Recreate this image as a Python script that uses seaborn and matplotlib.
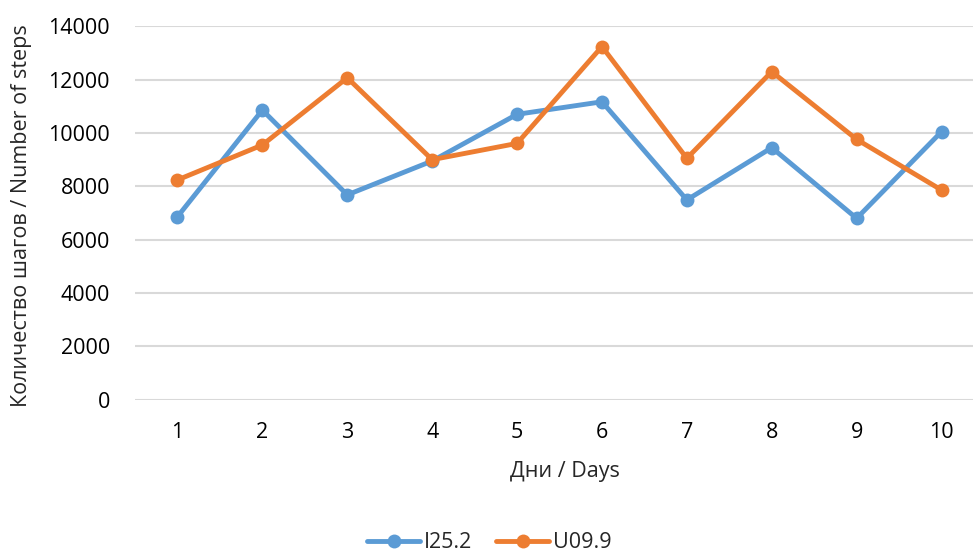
import matplotlib
matplotlib.use("Agg")
import matplotlib.pyplot as plt
import seaborn as sns
import pandas as pd
from matplotlib.lines import Line2D

days = [1, 2, 3, 4, 5, 6, 7, 8, 9, 10]
i25_2 = [6860, 10860, 7680, 8950, 10700, 11170, 7490, 9450, 6800, 10050]
u09_9 = [8240, 9550, 12070, 9000, 9610, 13240, 9050, 12300, 9760, 7860]
series_names = ["I25.2", "U09.9"]
y_ticks = [0, 2000, 4000, 6000, 8000, 10000, 12000, 14000]

df = pd.DataFrame({
    "day": days * 2,
    "steps": i25_2 + u09_9,
    "series": [series_names[0]] * len(days) + [series_names[1]] * len(days),
})

sns.set_theme(style="white")
plt.rcParams["font.family"] = ["Open Sans", "DejaVu Sans"]

W, H = 973, 554
fig = plt.figure(figsize=(W / 100, H / 100), dpi=100)
left, right, top, bottom = 135, 984, 26.3, 399.7
ax = fig.add_axes([left / W, 1 - bottom / H, (right - left) / W, (bottom - top) / H])

palette = {"I25.2": "#5B9BD5", "U09.9": "#ED7D31"}
sns.lineplot(data=df, x="day", y="steps", hue="series", palette=palette,
             marker="o", markersize=10, markeredgewidth=0, linewidth=3.5,
             ax=ax, legend=False, clip_on=False, zorder=3)

ax.set_xlim(0.5, 10.5)
ax.set_ylim(0, 14000)
ax.set_yticks(y_ticks)
ax.set_xticks(days)
ax.set_xticklabels([str(d) for d in days])
ax.yaxis.grid(True, color="#D9D9D9", linewidth=1.5)
ax.xaxis.grid(False)
ax.set_axisbelow(True)
for s in ax.spines.values():
    s.set_visible(False)
ax.tick_params(axis="both", length=0, labelsize=15.5, colors="#000000")
ax.tick_params(axis="y", pad=18)
ax.tick_params(axis="x", pad=16)

ax.set_xlabel("")
ax.set_ylabel("")
fig.text(565 / W, 1 - 472 / H, "Дни / Days", ha="center", va="center", fontsize=15.5)
fig.text(22 / W, 1 - 216 / H, "Количество шагов / Number of steps", ha="center",
         va="center", rotation=90, fontsize=15.5)

handles = [Line2D([], [], color=palette[n], marker="o", markersize=10,
                  markeredgewidth=0, linewidth=3.5) for n in series_names]
fig.legend(handles, series_names, loc="center", bbox_to_anchor=(489 / W, 1 - 543 / H),
           ncol=2, frameon=False, fontsize=15.5, handlelength=2.5,
           handletextpad=0.15, columnspacing=1.1, borderaxespad=0, borderpad=0)

fig.savefig("out.png", dpi=100)
